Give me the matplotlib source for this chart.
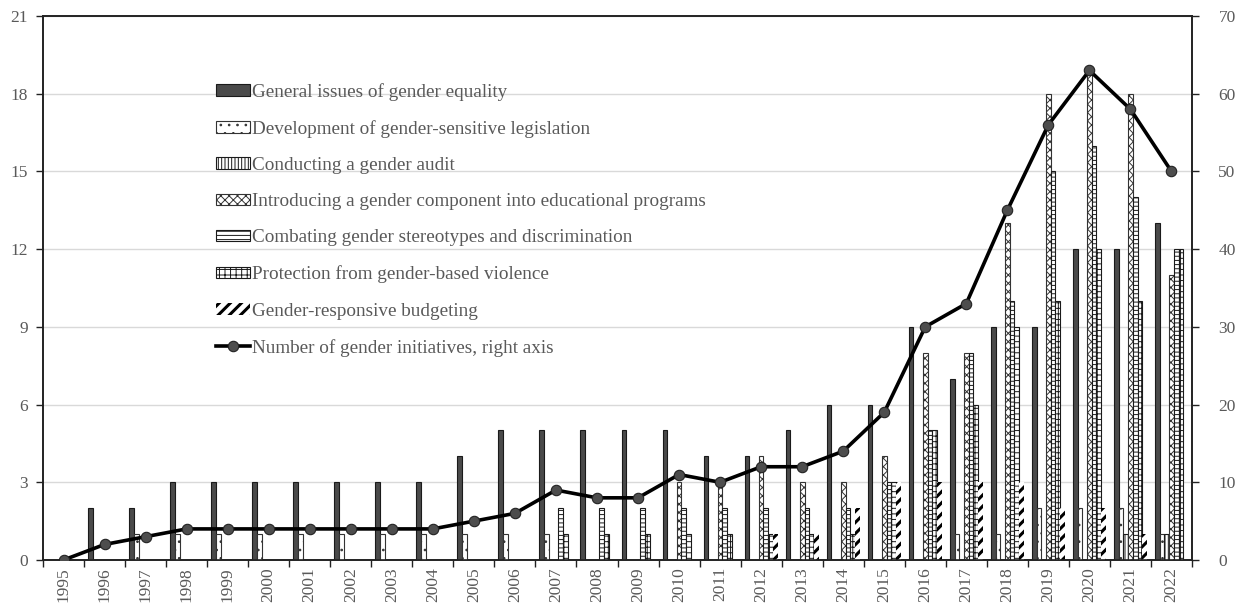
import matplotlib
matplotlib.use("Agg")
import matplotlib.pyplot as plt
import numpy as np
from matplotlib.ticker import MultipleLocator, FixedLocator
from matplotlib.patches import Patch

plt.rcParams['font.family'] = ['Liberation Serif', 'DejaVu Serif']
plt.rcParams['hatch.linewidth'] = 0.7

years = [str(y) for y in range(1995, 2023)]
general = [0, 2, 2, 3, 3, 3, 3, 3, 3, 3, 4, 5, 5, 5, 5, 5, 4, 4, 5, 6, 6, 9, 7, 9, 9, 12, 12, 13]
development = [0, 0, 1, 1, 1, 1, 1, 1, 1, 1, 1, 1, 1, 0, 0, 0, 0, 0, 0, 0, 0, 0, 1, 1, 2, 2, 2, 1]
audit = [0, 0, 0, 0, 0, 0, 0, 0, 0, 0, 0, 0, 0, 0, 0, 0, 0, 0, 0, 0, 0, 0, 0, 0, 0, 0, 1, 1]
introducing = [0, 0, 0, 0, 0, 0, 0, 0, 0, 0, 0, 0, 0, 0, 0, 3, 3, 4, 3, 3, 4, 8, 8, 13, 18, 19, 18, 11]
combating = [0, 0, 0, 0, 0, 0, 0, 0, 0, 0, 0, 0, 2, 2, 2, 2, 2, 2, 2, 2, 3, 5, 8, 10, 15, 16, 14, 12]
protection = [0, 0, 0, 0, 0, 0, 0, 0, 0, 0, 0, 0, 1, 1, 1, 1, 1, 1, 1, 1, 3, 5, 6, 9, 10, 12, 10, 12]
budgeting = [0, 0, 0, 0, 0, 0, 0, 0, 0, 0, 0, 0, 0, 0, 0, 0, 0, 1, 1, 2, 3, 3, 3, 3, 2, 2, 1, 0]
initiatives = [0, 2, 3, 4, 4, 4, 4, 4, 4, 4, 5, 6, 9, 8, 8, 11, 10, 12, 12, 14, 19, 30, 33, 45, 56, 63, 58, 50]

labels = ["General issues of gender equality",
          "Development of gender-sensitive legislation",
          "Conducting a gender audit",
          "Introducing a gender component into educational programs",
          "Combating gender stereotypes and discrimination",
          "Protection from gender-based violence",
          "Gender-responsive budgeting"]
line_label = "Number of gender initiatives, right axis"

TXT = '#595959'
fig = plt.figure(figsize=(12.38, 6.10), dpi=100)
ax = fig.add_axes([43/1238, 1-560/610, (1192-43)/1238, (560-16)/610])
ax2 = ax.twinx()

x = np.arange(len(years))
w = 0.115
series = [general, development, audit, introducing, combating, protection, budgeting]
styles = [
    dict(facecolor='#4a4a4a', edgecolor='#1a1a1a', linewidth=0.8, hatch=None),
    dict(facecolor='white', edgecolor='#333333', linewidth=0.8, hatch='..'),
    dict(facecolor='white', edgecolor='#1a1a1a', linewidth=0.8, hatch='|||||'),
    dict(facecolor='white', edgecolor='#333333', linewidth=0.8, hatch='xxxx'),
    dict(facecolor='white', edgecolor='#1a1a1a', linewidth=0.8, hatch='----'),
    dict(facecolor='white', edgecolor='#1a1a1a', linewidth=0.8, hatch='+++'),
    dict(facecolor='white', edgecolor='black', linewidth=0, hatch='///'),
]
proxies = []
for i, (vals, st, lab) in enumerate(zip(series, styles, labels)):
    bars = ax.bar(x + (i - 3) * w, vals, width=w, zorder=3, **st)
    p = Patch(label=lab, **st)
    if i == 6:
        for b in bars:
            if hasattr(b, 'set_hatch_linewidth'):
                b.set_hatch_linewidth(2.2)
    proxies.append(p)

ln, = ax2.plot(x, initiatives, color='black', lw=2.6, marker='o', markersize=7.5,
               markerfacecolor='#4d4d4d', markeredgecolor='#222222', markeredgewidth=0.8,
               label=line_label, zorder=5)

ax.set_xlim(-0.5, len(years) - 0.5)
ax.set_ylim(0, 21)
ax2.set_ylim(0, 70)
ax.yaxis.set_major_locator(MultipleLocator(3))
ax2.yaxis.set_major_locator(MultipleLocator(10))
ax.grid(axis='y', color='#d9d9d9', lw=1.0, zorder=0)
ax.set_axisbelow(True)

ax.set_xticks(x)
ax.set_xticklabels(years, rotation=90)
ax.xaxis.set_minor_locator(FixedLocator(np.arange(-0.5, len(years), 1.0)))
ax.tick_params(axis='x', which='major', length=0, pad=5, labelsize=12.5, labelcolor=TXT)
ax.tick_params(axis='x', which='minor', length=5, width=1, color='#222222', direction='out')
ax.tick_params(axis='y', length=5, width=1, color='#222222', labelsize=12.5, labelcolor=TXT, pad=6)
ax2.tick_params(axis='y', length=5, width=1, color='#222222', labelsize=12.5, labelcolor=TXT, pad=14)

for a in (ax, ax2):
    for s in a.spines.values():
        s.set_color('#222222')
        s.set_linewidth(1.2)

leg = ax2.legend(proxies + [ln], labels + [line_label], loc='upper left',
                 bbox_to_anchor=(0.151, 0.877), frameon=False, fontsize=13.8,
                 handlelength=1.75, handleheight=0.55, handletextpad=0.1,
                 labelspacing=1.0, borderpad=0, borderaxespad=0)
for t in leg.get_texts():
    t.set_color(TXT)
lh = getattr(leg, 'legend_handles', None) or getattr(leg, 'legendHandles', [])
if len(lh) > 6 and hasattr(lh[6], 'set_hatch_linewidth'):
    lh[6].set_hatch_linewidth(2.2)

fig.savefig('out.png', dpi=100)
